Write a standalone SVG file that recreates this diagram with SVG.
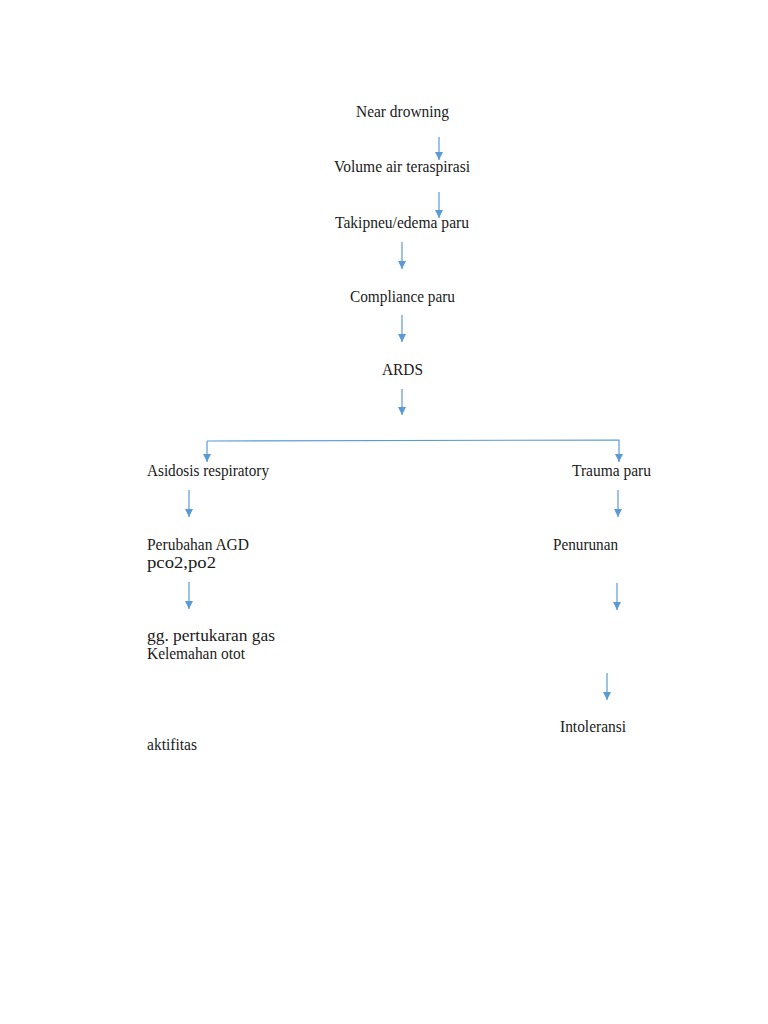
<svg xmlns="http://www.w3.org/2000/svg" width="768" height="1024" viewBox="0 0 768 1024">
<style>
text{font-family:"Liberation Serif","Times New Roman",serif;font-size:16px;fill:#1a1a1a}
.c{fill:none;stroke:#5b9bd5;stroke-width:1.2}
</style>
<defs>
<marker id="a" markerWidth="8" markerHeight="8" refX="8" refY="4" orient="auto" markerUnits="userSpaceOnUse" viewBox="0 0 8 8">
<path d="M0,0 L8,4 L0,8 Z" fill="#5b9bd5"/>
</marker>
</defs>
<rect width="768" height="1024" fill="#fff"/>
<g id="connectors">
<line class="c" x1="439" y1="137" x2="439" y2="160" marker-end="url(#a)"/>
<line class="c" x1="439" y1="192" x2="439" y2="218" marker-end="url(#a)"/>
<line class="c" x1="402" y1="242" x2="402" y2="269" marker-end="url(#a)"/>
<line class="c" x1="402" y1="315" x2="402" y2="342" marker-end="url(#a)"/>
<line class="c" x1="402" y1="389" x2="402" y2="415" marker-end="url(#a)"/>
<polyline class="c" points="207,441 619,440 619,462" marker-end="url(#a)"/>
<line class="c" x1="207" y1="441" x2="207" y2="462" marker-end="url(#a)"/>
<line class="c" x1="189" y1="490" x2="189" y2="517" marker-end="url(#a)"/>
<line class="c" x1="618" y1="490" x2="618" y2="517" marker-end="url(#a)"/>
<line class="c" x1="189" y1="582" x2="189" y2="609" marker-end="url(#a)"/>
<line class="c" x1="617" y1="583" x2="617" y2="610" marker-end="url(#a)"/>
<line class="c" x1="607" y1="673" x2="607" y2="700" marker-end="url(#a)"/>
</g>
<g id="n1"><text x="356" y="117" textLength="93" lengthAdjust="spacingAndGlyphs">Near drowning</text></g>
<g id="n2"><text x="334" y="172" textLength="136" lengthAdjust="spacingAndGlyphs">Volume air teraspirasi</text></g>
<g id="n3"><text x="335" y="228" textLength="134" lengthAdjust="spacingAndGlyphs">Takipneu/edema paru</text></g>
<g id="n4"><text x="350" y="302" textLength="105" lengthAdjust="spacingAndGlyphs">Compliance paru</text></g>
<g id="n5"><text x="382" y="375" textLength="41" lengthAdjust="spacingAndGlyphs">ARDS</text></g>
<g id="n6"><text x="147" y="476" textLength="122" lengthAdjust="spacingAndGlyphs">Asidosis respiratory</text></g>
<g id="n7"><text x="572" y="476" textLength="79" lengthAdjust="spacingAndGlyphs">Trauma paru</text></g>
<g id="n8"><text x="147" y="550" textLength="102" lengthAdjust="spacingAndGlyphs">Perubahan AGD</text><text x="147" y="568" textLength="69" lengthAdjust="spacingAndGlyphs">pco2,po2</text></g>
<g id="n9"><text x="553" y="550" textLength="65" lengthAdjust="spacingAndGlyphs">Penurunan</text></g>
<g id="n10"><text x="147" y="641" textLength="128" lengthAdjust="spacingAndGlyphs">gg. pertukaran gas</text><text x="147" y="659" textLength="98" lengthAdjust="spacingAndGlyphs">Kelemahan otot</text></g>
<g id="n11"><text x="560" y="732" textLength="66" lengthAdjust="spacingAndGlyphs">Intoleransi</text></g>
<g id="n12"><text x="147" y="750" textLength="50" lengthAdjust="spacingAndGlyphs">aktifitas</text></g>
</svg>
